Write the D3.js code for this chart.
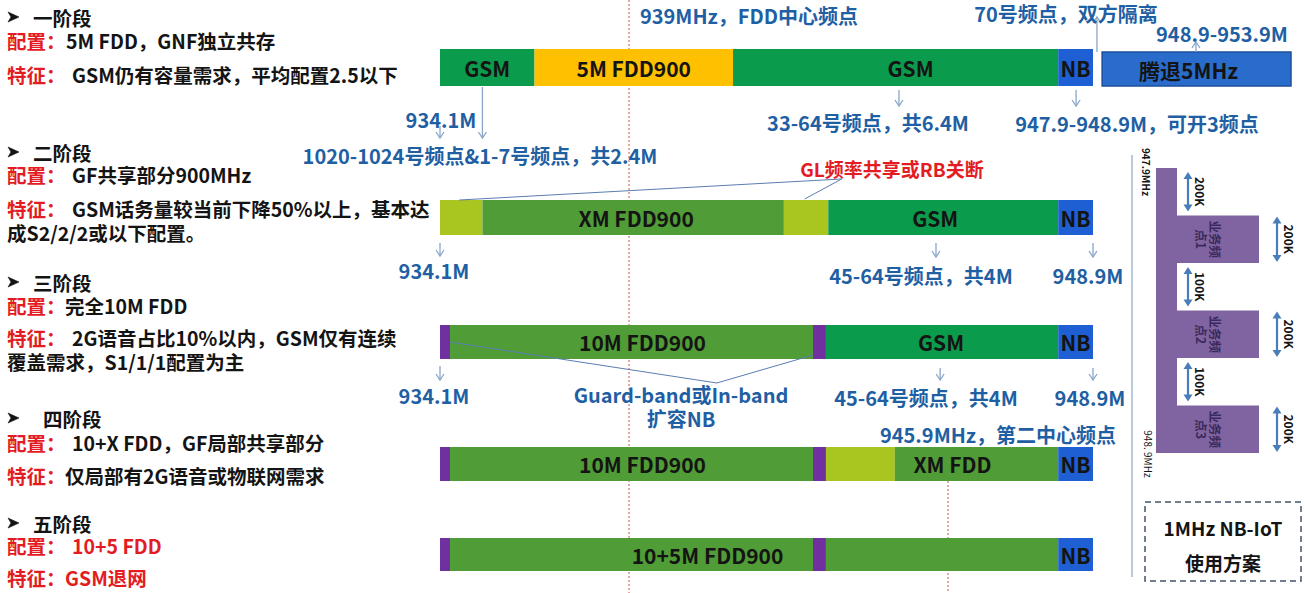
<!DOCTYPE html>
<html><head><meta charset="utf-8">
<script src="https://cdn.jsdelivr.net/npm/d3@7"></script>
<style>html,body{margin:0;padding:0;background:#fff;} svg{display:block;}</style>
</head><body><svg id="c" width="1305" height="593"></svg>
<script>
// ================= DATA =================
const stageNames = ["一阶段", "二阶段", "三阶段", "四阶段", "五阶段"];
const configValues = ["5M FDD，GNF独立共存", "GF共享部分900MHz", "完全10M FDD", "10+X FDD，GF局部共享部分", "10+5 FDD"];
const featureValues = [
  ["GSM仍有容量需求，平均配置2.5以下"],
  ["GSM话务量较当前下降50%以上，基本达", "成S2/2/2或以下配置。"],
  ["2G语音占比10%以内，GSM仅有连续", "覆盖需求，S1/1/1配置为主"],
  ["仅局部有2G语音或物联网需求"],
  ["GSM退网"]
];
// frequency anchors of the (schematic) band axis, MHz
const keyFreqs = [934.1, 939, 945.9, 948.9, 953.9];
// segments per stage: [label, fromMHz, toMHz, type]
const stage1Segments = [["GSM", 934.1, 936.55, "gsm"], ["5M FDD900", 936.55, 941.25, "fdd5"], ["GSM", 941.25, 948.18, "gsm"], ["NB", 948.18, 948.9, "nb"], ["腾退5MHz", 949.13, 953.9, "refarm"]];
const stage2Segments = [["", 934.1, 935.2, "shared"], ["XM FDD900", 935.2, 942.35, "fdd"], ["", 942.35, 943.31, "shared"], ["GSM", 943.31, 948.18, "gsm"], ["NB", 948.18, 948.9, "nb"]];
const stage3Segments = [["", 934.1, 934.36, "nbg"], ["10M FDD900", 934.36, 942.98, "fdd"], ["", 942.98, 943.26, "nbg"], ["GSM", 943.26, 948.18, "gsm"], ["NB", 948.18, 948.9, "nb"]];
const stage4Segments = [["", 934.1, 934.36, "nbg"], ["10M FDD900", 934.36, 942.98, "fdd"], ["", 942.98, 943.26, "nbg"], ["", 943.26, 944.75, "shared"], ["XM FDD", 944.75, 948.18, "fdd"], ["NB", 948.18, 948.9, "nb"]];
const stage5Segments = [["", 934.1, 934.36, "nbg"], ["10+5M FDD900", 934.36, 942.98, "fdd"], ["", 942.98, 943.26, "nbg"], ["", 943.26, 948.18, "fdd"], ["NB", 948.18, 948.9, "nb"]];
// centre-frequency markers
const centerFreqs = [939, 945.9];
const centerLabels = ["939MHz，FDD中心频点", "945.9MHz，第二中心频点"];
// blue annotations: [text, stage, arrowMHz, arrowDir]
const annotations = [
  ["934.1M", 0, 934.1, "down"],
  ["1020-1024号频点&1-7号频点，共2.4M", 0, 935.2, "down"],
  ["33-64号频点，共6.4M", 0, 944.84, "down"],
  ["947.9-948.9M，可开3频点", 0, 948.55, "down"],
  ["70号频点，双方隔离", 0, 949.0, "up"],
  ["948.9-953.9M", 0, 951.5, "up"],
  ["934.1M", 1, 934.1, "down"],
  ["45-64号频点，共4M", 1, 945.64, "down"],
  ["948.9M", 1, 948.9, "down"],
  ["934.1M", 2, 934.1, "down"],
  ["45-64号频点，共4M", 2, 945.73, "down"],
  ["948.9M", 2, 948.9, "down"]
];
const calloutTexts = ["GL频率共享或RB关断", ["Guard-band或In-band", "扩容NB"]];
// 1MHz NB-IoT plan (kHz): [kind, widthKHz, widthLabel, name lines]
const nbPlan = [["gap", 200, "200K", []], ["tooth", 200, "200K", ["业务频", "点1"]], ["gap", 100, "100K", []], ["tooth", 200, "200K", ["业务频", "点2"]], ["gap", 100, "100K", []], ["tooth", 200, "200K", ["业务频", "点3"]]];
const nbEdgeLabels = ["947.9MHz", "948. 9MHz"];
const planTitle = ["1MHz NB-IoT", "使用方案"];

// ================= LAYOUT / STYLE =================
const W = 1305, H = 593;
const FONT = "'Noto Sans CJK SC','Noto Sans',sans-serif";
const BLUE_TXT = "#1f5fa3", RED = "#e31c23", BLACK = "#141414";
const colors = { gsm: "#0b9b4c", fdd5: "#ffc000", fdd: "#509c36", shared: "#a9c51f", nbg: "#7030a0", nb: "#1e5fd3", refarm: "#2a6ccc" };
const barTop = [49, 200, 325, 447, 538];
const barH = [37, 35, 34, 34, 33];
const labelShift = [[0, 0, 15, 0, -8], [0, 3, 0, -8, 0], [0, 11, 0, -1, 0], [0, 11, 0, 0, -24, 0], [0, 76, 0, 0, 0]];
const annotPos = [[441, 119], [480, 155], [868, 122], [1137, 123], [1066, 13], [1222, 33], [434, 270], [921, 275], [1088, 275], [434, 395], [926, 397], [1090, 397]];
const arrowSpan = [[126, 138], [87, 138], [90, 106], [90, 106], [52, 17], [52, 42], [243, 256], [243, 257], [243, 257], [366, 380], [368, 380], [368, 380]];
const centerLinePos = [{ y1: 0, y2: H, lx: 749, ly: 15 }, { y1: 481, y2: H, lx: 998, ly: 434 }];

const svg = d3.select("#c");
const allSegments = [stage1Segments, stage2Segments, stage3Segments, stage4Segments, stage5Segments];
const x = d3.scaleLinear().domain(keyFreqs).range([440, 629, 948, 1093, 1291]);

// ---------- centre-frequency dashed lines (behind bars) ----------
svg.selectAll("line.center").data(centerFreqs).join("line")
  .attr("x1", d => x(d)).attr("x2", d => x(d))
  .attr("y1", (d, i) => centerLinePos[i].y1).attr("y2", (d, i) => centerLinePos[i].y2)
  .attr("stroke", "#c0392b").attr("stroke-width", 1).attr("stroke-dasharray", "2,2").attr("opacity", 0.85);

// ---------- bars ----------
allSegments.forEach((segs, si) => {
  const g = svg.append("g");
  g.selectAll("rect").data(segs).join("rect")
    .attr("x", d => x(d[1])).attr("width", d => x(d[2]) - x(d[1]))
    .attr("y", d => d[3] === "refarm" ? barTop[si] + 3 : barTop[si])
    .attr("height", d => d[3] === "refarm" ? barH[si] - 3 : barH[si])
    .attr("fill", d => colors[d[3]])
    .attr("stroke", d => d[3] === "refarm" ? "#1d4f9a" : "none").attr("stroke-width", 1.5);
  g.selectAll("text").data(segs.filter(d => d[0])).join("text")
    .attr("x", d => (x(d[1]) + x(d[2])) / 2 + labelShift[si][segs.indexOf(d)])
    .attr("y", d => barTop[si] + barH[si] / 2 + (d[3] === "refarm" ? 2 : 0))
    .attr("text-anchor", "middle").attr("dominant-baseline", "central")
    .attr("font-family", FONT).attr("font-weight", 700).attr("font-size", 21).attr("fill", BLACK)
    .text(d => d[0]);
});

// ---------- centre labels ----------
svg.selectAll("text.cl").data(centerLabels).join("text")
  .attr("x", (d, i) => centerLinePos[i].lx).attr("y", (d, i) => centerLinePos[i].ly)
  .attr("text-anchor", "middle").attr("dominant-baseline", "central")
  .attr("font-family", FONT).attr("font-weight", 700).attr("font-size", 20).attr("fill", BLUE_TXT)
  .text(d => d);

// ---------- thin arrows ----------
const arrowCol = "#8aa6c9";
function thinArrow(px, y1, y2) {
  const dir = y2 > y1 ? 1 : -1;
  svg.append("line").attr("x1", px).attr("x2", px).attr("y1", y1).attr("y2", y2)
    .attr("stroke", arrowCol).attr("stroke-width", 1.3);
  svg.append("path").attr("d", `M${px - 4},${y2 - dir * 6}L${px},${y2}L${px + 4},${y2 - dir * 6}`)
    .attr("fill", "none").attr("stroke", arrowCol).attr("stroke-width", 1.3);
}
annotations.forEach((a, i) => {
  thinArrow(x(a[2]), arrowSpan[i][0], arrowSpan[i][1]);
});
svg.selectAll("text.ann").data(annotations).join("text")
  .attr("x", (d, i) => annotPos[i][0]).attr("y", (d, i) => annotPos[i][1])
  .attr("text-anchor", "middle").attr("dominant-baseline", "central")
  .attr("font-family", FONT).attr("font-weight", 700).attr("font-size", 20).attr("fill", BLUE_TXT)
  .text(d => d[0]);

// ---------- callouts ----------
const callCol = "#5b7db1";
const glPt = [x(943.6), 179];
svg.append("path").attr("d", `M${x(934.6)},${barTop[1]}L${glPt[0]},${glPt[1]}L${x(942.8)},${barTop[1] - 1}`)
  .attr("fill", "none").attr("stroke", callCol).attr("stroke-width", 1);
svg.append("text").attr("x", 892).attr("y", 168).attr("text-anchor", "middle").attr("dominant-baseline", "central")
  .attr("font-family", FONT).attr("font-weight", 700).attr("font-size", 19).attr("fill", RED).text(calloutTexts[0]);
svg.append("path").attr("d", `M${x(934.36)},${barTop[2] + 17}L${x(940.9)},383L${x(942.98)},${barTop[2] + barH[2] - 4}`)
  .attr("fill", "none").attr("stroke", callCol).attr("stroke-width", 1);
const gb = svg.append("text").attr("text-anchor", "middle").attr("dominant-baseline", "central")
  .attr("font-family", FONT).attr("font-weight", 700).attr("font-size", 20).attr("fill", BLUE_TXT);
calloutTexts[1].forEach((t, k) => gb.append("tspan").attr("x", 681).attr("y", 394 + k * 24).attr("dominant-baseline", "central").text(t));

// ---------- left descriptions (one text block per stage) ----------
const headY = [17, 152, 282, 418, 523], headX = [33, 33, 33, 43, 33];
const cfgY = [40, 174, 305, 442, 545], cfgX = [66, 72, 65, 72, 72];
const featY = [74, 208, 337, 475, 577], featX = [72, 72, 72, 65, 65];
const lineGap = 24;
const left = svg.append("g");
stageNames.forEach((s, i) => {
  left.append("path").attr("transform", `translate(8,${headY[i]})`)
    .attr("d", "M0,-5L11,0L0,5L3,0Z").attr("fill", BLACK).attr("stroke", BLACK).attr("stroke-width", 0.6).attr("stroke-linejoin", "round");
  const t = left.append("text").attr("font-family", FONT).attr("font-weight", 700).attr("font-size", 19.5).attr("dominant-baseline", "central");
  const span = (tx, xx, yy, col) => t.append("tspan").attr("x", xx).attr("y", yy).attr("dominant-baseline", "central").attr("fill", col).text(tx);
  span(s, headX[i], headY[i], BLACK);
  span("配置：", 7, cfgY[i], RED);
  span(configValues[i], cfgX[i], cfgY[i], i === 4 ? RED : BLACK);
  span("特征：", 7, featY[i], RED);
  featureValues[i].forEach((v, k) => {
    if (k === 0) span(v, featX[i], featY[i], i === 4 ? RED : BLACK);
    else span(v, 7, featY[i] + lineGap * k, BLACK);
  });
});

// ---------- right panel: 1MHz NB-IoT plan ----------
let acc = 0;
const plan = nbPlan.map((d, i) => { const o = { i, kind: d[0], from: acc, to: acc + d[1], lab: d[2], name: d[3] }; acc += d[1]; return o; });
// schematic: every block drawn with the same height, widths given by the labels
const y = d3.scaleBand().domain(plan.map(d => d.i)).range([168, 453]).padding(0);
const rp = svg.append("g");
rp.append("line").attr("x1", 1132).attr("x2", 1132).attr("y1", 155).attr("y2", 577).attr("stroke", "#a3b8d3").attr("stroke-width", 1.5);
const PURPLE = "#8064a2";
rp.append("rect").attr("x", 1156).attr("width", 21).attr("y", y(0)).attr("height", y.bandwidth() * plan.length).attr("fill", PURPLE);
rp.selectAll("rect.tooth").data(plan.filter(d => d.kind === "tooth")).join("rect")
  .attr("x", 1176).attr("width", 83).attr("y", d => y(d.i)).attr("height", y.bandwidth()).attr("fill", PURPLE);
rp.selectAll("text.tname").data(plan.filter(d => d.kind === "tooth")).join("text")
  .attr("transform", d => `translate(1208,${y(d.i) + y.bandwidth() / 2}) rotate(90)`)
  .attr("text-anchor", "middle").attr("font-family", FONT).attr("font-weight", 700).attr("font-size", 12.5).attr("fill", "#3a2a5c")
  .each(function (d) {
    d.name.forEach((p, k) => {
      d3.select(this).append("tspan").attr("x", 0).attr("y", (k === 0 ? -7 : 7)).attr("dominant-baseline", "central").text(p);
    });
  });
const ARW = "#4a7ebb";
function dblArrow(px, y1, y2) {
  rp.append("line").attr("x1", px).attr("x2", px).attr("y1", y1 + 5).attr("y2", y2 - 5).attr("stroke", ARW).attr("stroke-width", 2.2);
  rp.append("path").attr("d", `M${px - 4.5},${y1 + 7}L${px},${y1}L${px + 4.5},${y1 + 7}Z`).attr("fill", ARW);
  rp.append("path").attr("d", `M${px - 4.5},${y2 - 7}L${px},${y2}L${px + 4.5},${y2 - 7}Z`).attr("fill", ARW);
}
plan.forEach(d => {
  const px = d.kind === "gap" ? 1188 : 1277;
  const inset = d.kind === "gap" ? 4 : 1;
  const y0 = y(d.i), y1 = y(d.i) + y.bandwidth();
  dblArrow(px, y0 + inset, y1 - inset);
  rp.append("text").attr("transform", `translate(${px + 12},${(y0 + y1) / 2}) rotate(90)`)
    .attr("text-anchor", "middle").attr("dominant-baseline", "central")
    .attr("font-family", FONT).attr("font-weight", 700).attr("font-size", 12).attr("fill", BLACK).text(d.lab);
});
rp.append("text").attr("transform", `translate(1146,172) rotate(90)`).attr("text-anchor", "middle").attr("dominant-baseline", "central")
  .attr("font-family", FONT).attr("font-weight", 700).attr("font-size", 10).attr("fill", BLACK).text(nbEdgeLabels[0]);
rp.append("text").attr("transform", `translate(1148,454) rotate(90)`).attr("text-anchor", "middle").attr("dominant-baseline", "central")
  .attr("font-family", FONT).attr("font-weight", 400).attr("font-size", 10).attr("fill", BLACK).text(nbEdgeLabels[1]);
rp.append("rect").attr("x", 1145).attr("y", 502).attr("width", 156).attr("height", 79)
  .attr("fill", "none").attr("stroke", "#44546a").attr("stroke-width", 1.5).attr("stroke-dasharray", "6,4");
rp.selectAll("text.pt").data(planTitle).join("text")
  .attr("x", 1223).attr("y", (d, i) => 527 + i * 35).attr("text-anchor", "middle").attr("dominant-baseline", "central")
  .attr("font-family", FONT).attr("font-weight", 700).attr("font-size", 19).attr("fill", BLACK).text(d => d);
</script></body></html>
